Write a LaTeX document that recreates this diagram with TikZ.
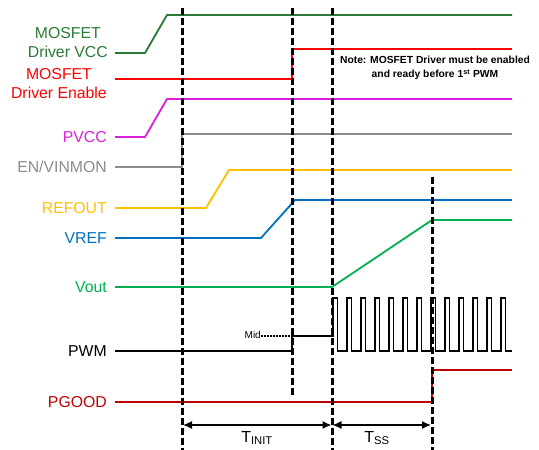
\documentclass[tikz,border=0pt]{standalone}
\usepackage{fontspec}
\setmainfont{Liberation Sans}
\usetikzlibrary{arrows.meta}
\definecolor{dgreen}{RGB}{40,122,52}
\definecolor{ered}{RGB}{255,0,0}
\definecolor{pmag}{RGB}{222,30,222}
\definecolor{egray}{RGB}{140,140,140}
\definecolor{ryel}{RGB}{255,192,0}
\definecolor{vblue}{RGB}{0,112,192}
\definecolor{vgreen}{RGB}{0,176,80}
\definecolor{pred}{RGB}{192,0,0}
\begin{document}
\begin{tikzpicture}[x=1pt,y=-1pt,
  sig/.style={line width=1.8pt},
  guide/.style={line width=3pt, dash pattern=on 7pt off 3pt},
  lab/.style={anchor=east, font=\fontsize{15.8}{19}\selectfont, align=center, inner sep=0pt},
  notetext/.style={font=\bfseries\fontsize{10.3}{14}\selectfont, align=center, inner sep=0pt},
  tlab/.style={font=\fontsize{16}{17}\selectfont, inner sep=0pt}]
\useasboundingbox (0,0) rectangle (539,450);

% labels
\node[lab, text=dgreen] (lvcc) at (108,43) {MOSFET\\Driver VCC};
\node[lab, text=ered] (len) at (107,83.5) {MOSFET\\Driver Enable};
\node[lab, text=pmag] (lpvcc) at (107,137) {PVCC};
\node[lab, text=egray] (lenv) at (107,167) {EN/VINMON};
\node[lab, text=ryel] (lref) at (107,208) {REFOUT};
\node[lab, text=vblue] (lvref) at (107,238) {VREF};
\node[lab, text=vgreen] (lvout) at (107,287) {Vout};
\node[lab, text=black] (lpwm) at (107,351) {PWM};
\node[lab, text=pred] (lpg) at (107,402) {PGOOD};

% signals
\draw[sig, dgreen] (115,53) -- (145,53) -- (167,15) -- (512,15);
\draw[sig, ered] (115,79) -- (292,79) -- (292,49) -- (512,49);
\draw[sig, pmag] (115,137) -- (145,137) -- (167,99) -- (512,99);
\draw[sig, egray] (115,167) -- (182,167) -- (182,134) -- (512,134);
\draw[sig, ryel] (115,208) -- (206,208) -- (229,170) -- (512,170);
\draw[sig, vblue] (115,238) -- (261,238) -- (295,200) -- (512,200);
\draw[sig, vgreen] (115,287) -- (332,287) -- (432,220) -- (512,220);
\draw[sig, black] (115,351) -- (292,351) -- (292,336) -- (333,336)
  \foreach \k in {0,...,11}{ -- ({333+14*\k},298) -- ({337.5+14*\k},298) -- ({337.5+14*\k},351) -- ({347+14*\k},351) }
  -- (501,298) -- (505.5,298) -- (505.5,351) -- (512,351);
\draw[sig, pred] (115,402) -- (432,402) -- (432,370) -- (512,370);

% Mid marker
\node[font=\fontsize{10}{12}\selectfont, anchor=east, inner sep=0pt] (mid) at (261,335) {Mid};
\coordinate (midend) at (292,336);
\draw[line width=1.8pt, dash pattern=on 1.8pt off 1.2pt] (mid.east |- midend) -- (midend);

% note
\node[notetext] (note) at (435,68) {Note: MOSFET Driver must be enabled\\and ready before 1\textsuperscript{st} PWM};

% guide lines
\draw[guide] (182,8) -- (182,450);
\draw[guide] (292,8) -- (292,395);
\draw[guide] (332,8) -- (332,450);
\draw[guide] (432,177) -- (432,450);

% dimensions
\coordinate (d1) at (183,425);
\coordinate (d2) at (331.5,425);
\coordinate (d3) at (332.5,425);
\coordinate (d4) at (431,425);
\draw[line width=1.3pt, {Latex[length=9pt,width=8pt]}-{Latex[length=9pt,width=8pt]}] (d1) -- (d2);
\draw[line width=1.3pt, {Latex[length=9pt,width=8pt]}-{Latex[length=9pt,width=8pt]}] (d3) -- (d4);
\node[tlab] (tinit) at (257,438) {T\textsubscript{INIT}};
\node[tlab] (tss) at (377,438) {T\textsubscript{SS}};
\end{tikzpicture}
\end{document}
